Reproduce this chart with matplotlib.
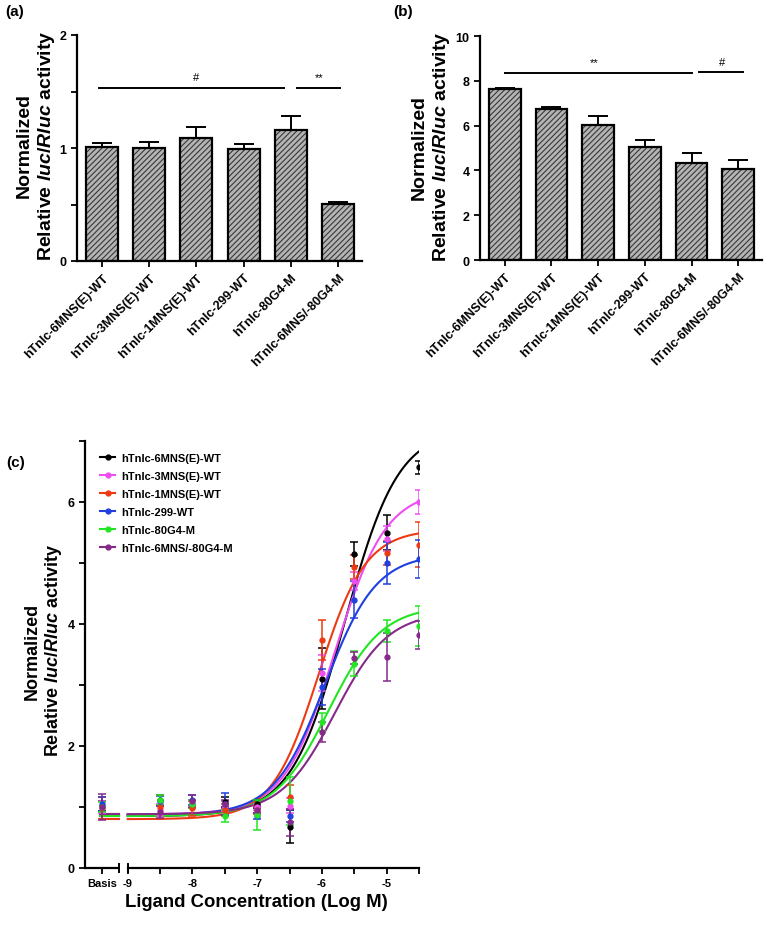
import numpy as np
import matplotlib
matplotlib.use('Agg')
import matplotlib.pyplot as plt
from matplotlib.lines import Line2D

plt.rcParams['font.family'] = ['Liberation Sans', 'DejaVu Sans']
plt.rcParams['font.weight'] = 'bold'
plt.rcParams['mathtext.fontset'] = 'custom'
plt.rcParams['mathtext.it'] = 'Liberation Sans:italic:bold'
plt.rcParams['mathtext.rm'] = 'Liberation Sans:bold'
plt.rcParams['hatch.linewidth'] = 0.8

# ---- data ----
constructs = ['hTnIc-6MNS(E)-WT', 'hTnIc-3MNS(E)-WT', 'hTnIc-1MNS(E)-WT',
              'hTnIc-299-WT', 'hTnIc-80G4-M', 'hTnIc-6MNS/-80G4-M']

bars_a = [1.01, 1.00, 1.09, 0.995, 1.16, 0.505]
err_a = [0.03, 0.05, 0.10, 0.04, 0.12, 0.015]

bars_b = [7.62, 6.73, 6.04, 5.04, 4.33, 4.06]
err_b = [0.07, 0.09, 0.40, 0.30, 0.43, 0.40]

# dose response (Basis + log M)
log_conc = [-8.5, -8.0, -7.5, -7.0, -6.5, -6.0, -5.5, -5.0, -4.5]
basis_x = -9.4

means_c = {
    'hTnIc-6MNS(E)-WT':   [1.02, 1.12, 1.05, 1.08, 1.05, 0.68, 3.10, 5.15, 5.50, 6.57],
    'hTnIc-3MNS(E)-WT':   [1.00, 0.95, 1.05, 1.02, 1.00, 1.02, 3.20, 4.70, 5.40, 6.00],
    'hTnIc-1MNS(E)-WT':   [0.98, 1.00, 0.98, 0.95, 0.95, 1.16, 3.74, 4.93, 5.16, 5.30],
    'hTnIc-299-WT':       [1.05, 1.10, 1.12, 1.05, 0.85, 0.85, 2.97, 4.40, 5.00, 5.07],
    'hTnIc-80G4-M':       [1.00, 1.12, 1.05, 0.85, 0.87, 1.10, 2.39, 3.35, 3.88, 3.97],
    'hTnIc-6MNS/-80G4-M': [1.00, 0.92, 1.10, 1.05, 0.95, 0.75, 2.23, 3.44, 3.46, 3.82],
}
sem_c = {
    'hTnIc-6MNS(E)-WT':   [0.08, 0.08, 0.07, 0.08, 0.06, 0.27, 0.50, 0.20, 0.28, 0.11],
    'hTnIc-3MNS(E)-WT':   [0.10, 0.10, 0.06, 0.08, 0.05, 0.12, 0.30, 0.15, 0.20, 0.20],
    'hTnIc-1MNS(E)-WT':   [0.18, 0.20, 0.12, 0.10, 0.07, 0.20, 0.33, 0.20, 0.20, 0.37],
    'hTnIc-299-WT':       [0.12, 0.08, 0.08, 0.18, 0.05, 0.10, 0.30, 0.30, 0.35, 0.31],
    'hTnIc-80G4-M':       [0.08, 0.08, 0.06, 0.10, 0.25, 0.40, 0.15, 0.20, 0.18, 0.33],
    'hTnIc-6MNS/-80G4-M': [0.22, 0.10, 0.10, 0.06, 0.05, 0.22, 0.17, 0.10, 0.40, 0.23],
}
# fitted 4PL parameters: bottom, top, logEC50, hill
fit_bottom = [0.85, 0.88, 0.80, 0.87, 0.85, 0.88]
fit_top = [7.20, 6.20, 5.55, 5.15, 4.30, 4.20]
fit_ec50 = [-5.65, -5.80, -6.05, -5.95, -5.90, -5.80]
fit_hill = [1.05, 1.10, 1.20, 1.10, 1.05, 1.05]
colors_c = ['#000000', '#ee4ef0', '#ee3a12', '#1f3fe0', '#22e622', '#862a8a']

W, H = 773, 928
fig = plt.figure(figsize=(W / 100, H / 100), dpi=100)


def px_axes(x0, y0, x1, y1):
    return fig.add_axes([x0 / W, 1 - y1 / H, (x1 - x0) / W, (y1 - y0) / H])


def style(ax):
    for s in ['top', 'right']:
        ax.spines[s].set_visible(False)
    for s in ['left', 'bottom']:
        ax.spines[s].set_linewidth(1.6)
    ax.tick_params(which='both', direction='out', width=1.3, labelsize=9)
    ax.tick_params(which='major', length=4)
    ax.tick_params(which='minor', length=4)


def bar_panel(ax, vals, errs):
    x = np.arange(len(vals))
    ax.bar(x, vals, width=0.68, color='#b4b4b4', edgecolor='#383838',
           linewidth=0, hatch='//////', zorder=2)
    ax.bar(x, vals, width=0.68, color='none', edgecolor='black',
           linewidth=1.6, zorder=3)
    ax.errorbar(x, vals, yerr=[np.zeros(len(vals)), errs], fmt='none',
                ecolor='black', elinewidth=1.4, capsize=7, capthick=1.4, zorder=1)
    ax.set_xticks(x)
    ax.set_xticklabels(constructs, rotation=45, ha='right',
                       rotation_mode='anchor', fontsize=10.3)
    ax.set_xlim(-0.53, 5.51)
    style(ax)


# ---- panel (a) ----
ax_a = px_axes(77, 36, 362, 262)
bar_panel(ax_a, bars_a, err_a)
ax_a.set_ylim(0, 2)
ax_a.set_yticks([0, 1, 2])
ax_a.set_yticks([0.5, 1.5], minor=True)
ax_a.plot([-0.06, 3.85], [1.53, 1.53], color='black', lw=1.4)
ax_a.plot([4.13, 5.04], [1.53, 1.53], color='black', lw=1.4)
ax_a.text(1.99, 1.63, '#', ha='center', va='center', fontsize=8, fontweight='normal')
ax_a.text(4.6, 1.63, '**', ha='center', va='center', fontsize=8, fontweight='normal')

# ---- panel (b) ----
ax_b = px_axes(480, 37, 762, 261)
bar_panel(ax_b, bars_b, err_b)
ax_b.set_ylim(0, 10)
ax_b.set_yticks([0, 2, 4, 6, 8, 10])
ax_b.plot([0.0, 4.0], [8.35, 8.35], color='black', lw=1.4)
ax_b.plot([4.17, 5.1], [8.4, 8.4], color='black', lw=1.4)
ax_b.text(1.91, 8.84, '**', ha='center', va='center', fontsize=8, fontweight='normal')
ax_b.text(4.66, 8.84, '#', ha='center', va='center', fontsize=8, fontweight='normal')

ylab = 'Normalized\nRelative $luc$/$Rluc$ activity'
fig.text(36.5 / W, 1 - 146 / H, ylab, rotation=90, ha='center', va='center',
         fontsize=14, fontweight='bold', multialignment='center')
fig.text(431 / W, 1 - 147 / H, ylab, rotation=90, ha='center', va='center',
         fontsize=14, fontweight='bold', multialignment='center')

# ---- panel (c) ----
ax_c = px_axes(85, 442, 419, 869)
xfit = np.linspace(-9, -4.5, 300)
xs = [basis_x] + log_conc
handles = []
for i, name in enumerate(constructs):
    c = colors_c[i]
    b, t, e, h = fit_bottom[i], fit_top[i], fit_ec50[i], fit_hill[i]
    yfit = b + (t - b) / (1 + 10 ** ((e - xfit) * h))
    ax_c.plot(xfit, yfit, color=c, lw=1.5, zorder=3)
    ax_c.plot([-9.43, -9.14], [b, b], color=c, lw=1.5, zorder=3)
    ax_c.errorbar(xs, means_c[name], yerr=sem_c[name], fmt='o', color=c,
                  ms=3.5, elinewidth=1.1, capsize=3, capthick=1.1, zorder=4)
    handles.append(Line2D([0], [0], color=c, marker='o', ms=3.5, lw=1.5))

ax_c.set_xlim(-9.66, -4.5)
ax_c.set_ylim(0, 7)
ax_c.set_yticks([0, 2, 4, 6])
ax_c.set_yticks([1, 3, 5, 7], minor=True)
ax_c.set_xticks([basis_x, -9, -8, -7, -6, -5])
ax_c.set_xticklabels(['Basis', '-9', '-8', '-7', '-6', '-5'])
ax_c.set_xticks([-8.5, -7.5, -6.5, -5.5, -4.5], minor=True)
style(ax_c)
ax_c.tick_params(axis='x', labelsize=8)
ax_c.spines['bottom'].set_bounds(-9, -4.5)
ax_c.plot([-9.66, -9.14], [0, 0], color='black', lw=1.6, clip_on=False,
          solid_capstyle='butt')
for xb in [-9.14, -9.0]:
    ax_c.plot([xb, xb], [-0.07, 0.07], color='black', lw=1.4, clip_on=False)

ax_c.legend(handles, constructs, loc='upper left', bbox_to_anchor=(0.045, 0.972),
            frameon=False, prop={'size': 8, 'weight': 'bold'}, handlelength=1.35,
            handletextpad=0.55, labelspacing=0.72, borderpad=0, borderaxespad=0)

fig.text(44 / W, 1 - 651 / H, ylab, rotation=90, ha='center', va='center',
         fontsize=13, fontweight='bold', multialignment='center')
fig.text(256 / W, 1 - 903 / H, 'Ligand Concentration (Log M)', ha='center',
         va='center', fontsize=13.3, fontweight='bold')

# panel labels
fig.text(5 / W, 1 - 12 / H, '(a)', ha='left', va='center', fontsize=11, fontweight='bold')
fig.text(393 / W, 1 - 12 / H, '(b)', ha='left', va='center', fontsize=11, fontweight='bold')
fig.text(6 / W, 1 - 463 / H, '(c)', ha='left', va='center', fontsize=11, fontweight='bold')

fig.savefig('out.png', dpi=100)
